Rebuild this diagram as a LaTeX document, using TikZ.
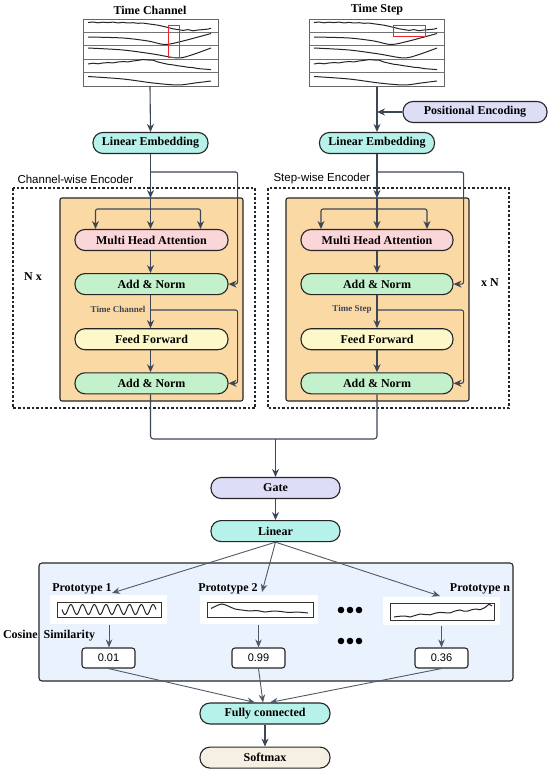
\documentclass[tikz,border=0pt]{standalone}
\usepackage{fontspec}
\setmainfont{Liberation Serif}
\setsansfont{Liberation Sans}
\usepackage{tikz}
\usepackage{xcolor}
\usetikzlibrary{calc,arrows.meta,positioning}
\definecolor{ink}{HTML}{3C4657}
\definecolor{mint}{HTML}{B6F1EA}
\definecolor{blush}{HTML}{FAD6D9}
\definecolor{leaf}{HTML}{C3F1CB}
\definecolor{cream}{HTML}{FCF8C9}
\definecolor{lilac}{HTML}{DDDDF8}
\definecolor{sand}{HTML}{F5F0E1}
\definecolor{apricot}{HTML}{FBD9A5}
\definecolor{panel}{HTML}{EAF3FD}
\definecolor{redbox}{HTML}{E8262B}

\tikzset{
  pill/.style={draw=black!85, line width=1.1pt, rounded corners=10pt,
    minimum height=21pt, inner sep=0pt, font=\bfseries\fontsize{12}{13}\selectfont},
  arr/.style={draw=ink, line width=1.1pt, -{Stealth[length=8pt,width=7pt]}},
  wire/.style={draw=ink, line width=1.1pt},
  thin arr/.style={draw=ink!90, line width=0.9pt, -{Stealth[length=8pt,width=6.5pt]}},
  valbox/.style={draw=black!85, line width=1.1pt, rounded corners=3pt, fill=white,
    minimum width=53pt, minimum height=20pt, font=\sffamily\fontsize{11}{12}\selectfont},
  title/.style={font=\bfseries\fontsize{12}{13}\selectfont},
  series/.style={line width=1pt, black!85},
}

% five-row sensor chart, local origin = top-left corner
\newcommand{\sensorgrid}{%
  \draw[black!60, line width=0.8pt] (0,0) rectangle (135,67);
  \foreach \yy in {13.4,26.8,40.2,53.6} \draw[black!55, line width=0.8pt] (0,\yy) -- (135,\yy);
  \draw[series] (5,3.5) -- (10,3) -- (15,3.8) -- (20,3.2) -- (25,3.6) -- (30,3.1) -- (35,3.9)
    -- (40,3.4) -- (45,4) -- (50,3.7) -- (55,4.3) -- (60,4.1) -- (65,4.8) -- (70,5.5) -- (75,6.2)
    -- (80,7.3) -- (85,8.5) -- (90,9.8) -- (95,10.6) -- (100,11.4) -- (105,10.6) -- (110,11.8)
    -- (115,11) -- (120,10.6) -- (125,10.1) -- (128,9.2);
  \draw[series] plot[smooth] coordinates {(5,18) (40,19) (65,22) (82,25.5) (100,22) (128,14.5)};
  \draw[series] plot[smooth] coordinates {(5,29) (40,31) (70,35) (95,39) (110,35.5) (128,29)};
  \draw[series] (5,45) -- (10,44.2) -- (15,44.8) -- (20,44) -- (25,43.6) -- (30,43.9) -- (35,43)
    -- (40,42.6) -- (45,42.9) -- (50,42) -- (55,41.4) -- (60,40.6) -- (65,41) -- (70,41.2)
    -- (75,43) -- (80,44.2) -- (85,45.3) -- (90,45.9) -- (95,46.8) -- (100,47.4) -- (105,48.3)
    -- (110,48.6) -- (115,49.6) -- (120,50) -- (128,50.6);
  \draw[series] plot[smooth] coordinates {(5,57.5) (40,60) (70,64) (95,66) (112,64) (128,62)};
}

\begin{document}
\begin{tikzpicture}[x=1pt, y=-1pt]
  \useasboundingbox (0,0) rectangle (550,770);

  % input charts
  \node[title] (tcTitle) at (150,10) {Time Channel};
  \node[title] (tsTitle) at (377,10) {Time Step};
  \begin{scope}[shift={(83,19)}]
    \sensorgrid
    \draw[redbox, line width=1pt] (85,7) rectangle (96,39);
  \end{scope}
  \begin{scope}[shift={(309,19)}]
    \sensorgrid
    \draw[redbox, line width=1pt] (84,7) rectangle (116,18);
  \end{scope}
  \coordinate (tcOut) at (150,86);
  \coordinate (tsOut) at (377,87);

  \node[pill, fill=lilac, minimum width=144pt] (posEnc) at (475,112) {Positional Encoding};
  \node[pill, fill=mint, minimum width=115pt] (embedL) at (150.5,143) {Linear Embedding};
  \node[pill, fill=mint, minimum width=115pt] (embedR) at (377,143) {Linear Embedding};
  \draw[arr] (tcOut) -- (embedL.north);
  \draw[arr] (tsOut) -- (embedR.north);
  \draw[arr] (posEnc.west) -- (posEnc.west -| embedR);

  % encoder frames
  \draw[black!85, line width=1.1pt, dashed, dash pattern=on 2.5pt off 2pt] (13,188) rectangle (255,408);
  \draw[black!85, line width=1.1pt, dashed, dash pattern=on 2.5pt off 2pt] (268,188) rectangle (509,408);
  \node[anchor=west, font=\sffamily\fontsize{11.5}{12}\selectfont] (encLabelL) at (14,179) {Channel-wise Encoder};
  \node[anchor=west, font=\sffamily\fontsize{11.5}{12}\selectfont] (encLabelR) at (270,179) {Step-wise Encoder};
  \draw[fill=apricot, draw=black!85, line width=1.1pt, rounded corners=2pt] (60,198) rectangle (243,401);
  \draw[fill=apricot, draw=black!85, line width=1.1pt, rounded corners=2pt] (286,198) rectangle (469,401);
  \node[title] (nxL) at (33,277) {N x};
  \node[title] (nxR) at (490,283) {x N};

  % channel-wise stack
  \node[pill, fill=blush, minimum width=153pt] (mhaL) at (151.5,240) {Multi Head Attention};
  \node[pill, fill=leaf, minimum width=153pt, below=22pt of mhaL] (anL1) {Add \& Norm};
  \node[pill, fill=cream, minimum width=153pt, below=33pt of anL1] (ffL) {Feed Forward};
  \node[pill, fill=leaf, minimum width=153pt, below=22pt of ffL] (anL2) {Add \& Norm};

  % step-wise stack
  \node[pill, fill=blush, minimum width=152pt] (mhaR) at (377,240) {Multi Head Attention};
  \node[pill, fill=leaf, minimum width=152pt, below=22pt of mhaR] (anR1) {Add \& Norm};
  \node[pill, fill=cream, minimum width=152pt, below=33pt of anR1] (ffR) {Feed Forward};
  \node[pill, fill=leaf, minimum width=152pt, below=22pt of ffR] (anR2) {Add \& Norm};

  \node[font=\bfseries\fontsize{9}{10}\selectfont, text=ink] (tcTag) at (118,309) {Time Channel};
  \node[font=\bfseries\fontsize{9}{10}\selectfont, text=ink] (tsTag) at (352,309) {Time Step};

  % wiring, left
  \coordinate (forkL) at (150.5,209);
  \draw[arr] (embedL.south) -- (150.5,198);
  \draw[wire] (150.5,198) -- (forkL);
  \draw[arr] (forkL) -- (mhaL.north -| forkL);
  \draw[arr, rounded corners=2pt] (forkL) -| ($(forkL)+(-55,20)$);
  \draw[arr, rounded corners=2pt] (forkL) -| ($(forkL)+(50,20)$);
  \draw[arr] (mhaL.south -| forkL) -- (anL1.north -| forkL);
  \draw[arr] (anL1.south -| forkL) -- (ffL.north -| forkL);
  \draw[arr] (ffL.south -| forkL) -- (anL2.north -| forkL);
  \draw[arr, rounded corners=2pt] (150.5,172) -| ($(anL1.east)+(9,0)$) -- (anL1.east);
  \draw[arr, rounded corners=2pt] (150.5,310) -| ($(anL2.east)+(9,0)$) -- (anL2.east);

  % wiring, right
  \coordinate (forkR) at (377,209);
  \draw[arr] (embedR.south) -- (377,198);
  \draw[wire] (377,198) -- (forkR);
  \draw[arr] (forkR) -- (mhaR.north -| forkR);
  \draw[arr, rounded corners=2pt] (forkR) -| ($(forkR)+(-56,20)$);
  \draw[arr, rounded corners=2pt] (forkR) -| ($(forkR)+(50,20)$);
  \draw[arr] (mhaR.south -| forkR) -- (anR1.north -| forkR);
  \draw[arr] (anR1.south -| forkR) -- (ffR.north -| forkR);
  \draw[arr] (ffR.south -| forkR) -- (anR2.north -| forkR);
  \draw[arr, rounded corners=2pt] (377,172) -| ($(anR1.east)+(10,0)$) -- (anR1.east);
  \draw[arr, rounded corners=2pt] (377,310) -| ($(anR2.east)+(10,0)$) -- (anR2.east);

  % merge
  \node[pill, fill=lilac, minimum width=129pt] (gate) at (275.5,488) {Gate};
  \node[pill, fill=mint, minimum width=129pt, below=21pt of gate] (linear) {Linear};
  \coordinate (merge) at (275.5,439);
  \draw[wire, rounded corners=3pt] (anL2.south -| forkL) |- (merge) -| (anR2.south -| forkR);
  \draw[arr] (merge) -- (gate.north);
  \draw[arr] (gate.south) -- (linear.north);

  % prototype panel
  \draw[fill=panel, draw=black!85, line width=1.1pt, rounded corners=3pt] (39,563) rectangle (513,681);
  \fill[white] (50,595) rectangle (167,624);
  \fill[white] (200,595) rectangle (318,624);
  \fill[white] (383,597) rectangle (500,625);
  \node[draw=black!80, line width=0.9pt, minimum width=104pt, minimum height=15pt, inner sep=0pt] (protoA) at (109,610) {};
  \node[draw=black!80, line width=0.9pt, minimum width=106pt, minimum height=15pt, inner sep=0pt] (protoB) at (260,610) {};
  \node[draw=black!80, line width=0.9pt, minimum width=104pt, minimum height=17pt, inner sep=0pt] (protoN) at (442,611.5) {};
  \draw[series] plot[domain=62:156, samples=120] (\x,{609.5+5*sin(30.64*(\x-62))});
  \draw[series] plot[smooth] coordinates {(211,608.5) (216,606) (222,604) (228,606) (235,609)
    (242,610) (250,611) (257,610.5) (265,612) (273,611) (281,611.5) (289,612.5) (297,612) (308,613)};
  \draw[series] (394,617) -- (399,616.3) -- (405,616) -- (410,617) -- (414,615.8) -- (420,614)
    -- (426,614.6) -- (430,614.8) -- (436,613) -- (440,612.4) -- (446,612.8) -- (450,613)
    -- (455,611) -- (460,610) -- (464,611.2) -- (468,611) -- (472,609.6) -- (476,609) -- (480,609.8)
    -- (485,607.5) -- (489,604.2) -- (492,606);

  \node[title] (labA) at (82,589) {Prototype 1};
  \node[title] (labB) at (228,589) {Prototype 2};
  \node[title] (labN) at (480,589) {Prototype n};
  \node[title] (cosine) at (49,636) {Cosine\ \ Similarity};
  \foreach \dx in {341,350,359} {
    \fill[black] (\dx,610) circle (3.3pt);
    \fill[black] (\dx,641) circle (3.3pt);
  }

  \node[valbox] (valA) at (108.5,658) {0.01};
  \node[valbox] (valB) at (258.5,658) {0.99};
  \node[valbox] (valN) at (441.5,658) {0.36};
  \draw[thin arr] (protoA.south |- 0,625) -- (protoA.south |- valA.north);
  \draw[thin arr] (valB.north |- 0,625) -- (valB.north);
  \draw[thin arr] (valN.north |- 0,626) -- (valN.north);

  \coordinate (tipA) at (112,593);
  \coordinate (tipB) at (262,592);
  \coordinate (tipN) at (440,596);
  \draw[thin arr] (linear.south) -- (tipA);
  \draw[thin arr] (linear.south) -- (tipB);
  \draw[thin arr] (linear.south) -- (tipN);

  % output
  \node[pill, fill=mint, minimum width=130pt] (fc) at (265,713.5) {Fully connected};
  \node[pill, fill=sand, minimum width=130pt, below=22pt of fc] (softmax) {Softmax};
  \draw[thin arr] (valA.south) -- ($(fc.north)+(-10,0)$);
  \draw[thin arr] (valB.south) -- ($(fc.north)+(-2,0)$);
  \draw[thin arr] (valN.south) -- ($(fc.north)+(5,0)$);
  \draw[arr] (fc.south) -- (softmax.north);
\end{tikzpicture}
\end{document}
